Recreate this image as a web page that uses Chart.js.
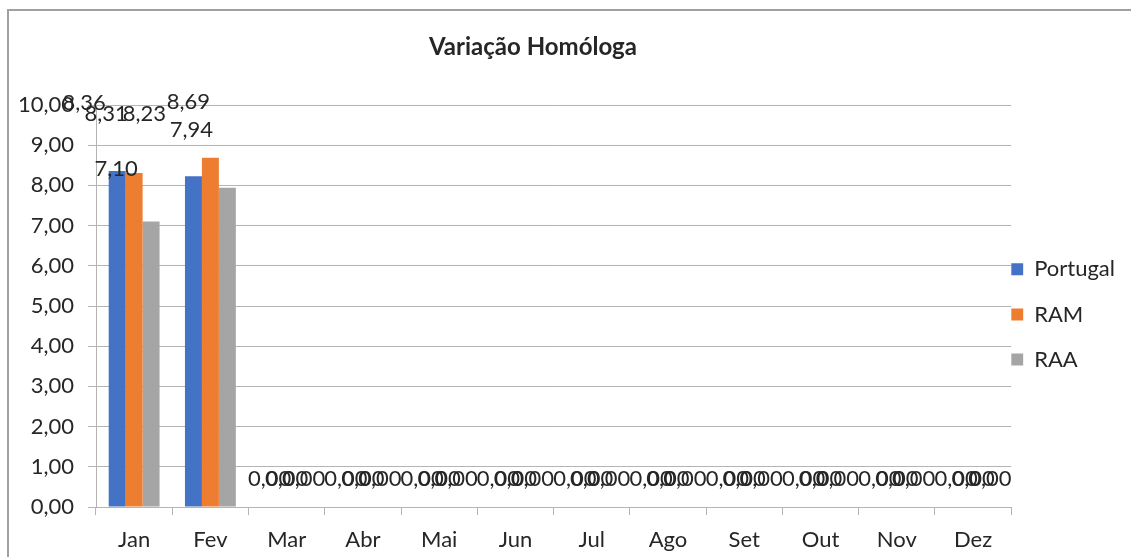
<!DOCTYPE html>
<html>
<head>
<meta charset="utf-8">
<script src="https://cdn.jsdelivr.net/npm/chart.js@4/dist/chart.umd.min.js"></script>
<style>
    html, body { margin: 0; padding: 0; background: #ffffff; overflow: hidden; }
    #wrap { position: relative; width: 1131px; height: 557px; }
</style>
</head>
<body>
<div id="wrap"><canvas id="variacaoChart"></canvas></div>
<script>
// Data
const months = ["Jan", "Fev", "Mar", "Abr", "Mai", "Jun", "Jul", "Ago", "Set", "Out", "Nov", "Dez"]
const portugal = [8.36, 8.23, 0, 0, 0, 0, 0, 0, 0, 0, 0, 0]
const ram = [8.31, 8.69, 0, 0, 0, 0, 0, 0, 0, 0, 0, 0]
const raa = [7.10, 7.94, 0, 0, 0, 0, 0, 0, 0, 0, 0, 0]
const yTicks = [0, 1, 2, 3, 4, 5, 6, 7, 8, 9, 10]

const FONT = "Lato, 'Open Sans', sans-serif"
const TEXT = "#262626"
const GRID = "#b4b4b4"

const fmt = (v) => v.toFixed(2).replace(".", ",")

// Labels that were dragged around in the original (dataset-index: [dx, dy])
const labelNudges = {
    "0-0": [-33, -68],
    "1-0": [-28, -59],
    "2-0": [-35, -53],
    "0-1": [-49, -62],
    "1-1": [-22, -56],
    "2-1": [-36, -58],
}

// Draws value labels above each bar
const valueLabels = {
    id: "valueLabels",
    afterDatasetsDraw(chart) {
        const ctx = chart.ctx
        ctx.save()
        ctx.font = "22px " + FONT
        ctx.fillStyle = TEXT
        ctx.textAlign = "center"
        ctx.textBaseline = "middle"
        chart.data.datasets.forEach((ds, di) => {
            const meta = chart.getDatasetMeta(di)
            meta.data.forEach((bar, i) => {
                const nudge = labelNudges[di + "-" + i] || [0, -28]
                ctx.fillText(fmt(ds.data[i]), bar.x + nudge[0], bar.y + nudge[1])
            })
        })
        ctx.restore()
    },
}

// Chart frame (top/left border) and the title
const frameAndTitle = {
    id: "frameAndTitle",
    beforeDraw(chart) {
        const ctx = chart.ctx
        ctx.save()
        ctx.strokeStyle = "#a0a0a0"
        ctx.lineWidth = 2
        ctx.beginPath()
        ctx.moveTo(8, chart.height)
        ctx.lineTo(8, 10)
        ctx.lineTo(chart.width, 10)
        ctx.stroke()
        ctx.restore()
    },
    afterDraw(chart) {
        const ctx = chart.ctx
        ctx.save()
        ctx.font = "bold 24px " + FONT
        ctx.fillStyle = TEXT
        ctx.textAlign = "center"
        ctx.textBaseline = "middle"
        ctx.fillText("Variação Homóloga", 533, 47)
        ctx.restore()
    },
}

const ctx = document.getElementById("variacaoChart").getContext("2d")

new Chart(ctx, {
    type: "bar",
    data: {
        labels: months,
        datasets: [
            { label: "Portugal", data: portugal, backgroundColor: "#4472C4" },
            { label: "RAM", data: ram, backgroundColor: "#ED7D31" },
            { label: "RAA", data: raa, backgroundColor: "#A5A5A5" },
        ],
    },
    options: {
        responsive: true,
        maintainAspectRatio: false,
        animation: false,
        devicePixelRatio: 1,
        datasets: {
            bar: { categoryPercentage: 0.667, barPercentage: 1.0 },
        },
        layout: {
            padding: { left: 8, top: 105, right: 6, bottom: 0 },
        },
        plugins: {
            title: { display: false },
            tooltip: { enabled: false },
            legend: {
                position: "right",
                fullSize: false,
                title: {
                    display: true,
                    text: " ",
                    padding: 0,
                    font: { family: FONT, size: 20, lineHeight: 2 },
                },
                labels: {
                    boxWidth: 12,
                    boxHeight: 12,
                    padding: 0,
                    color: TEXT,
                    font: { family: FONT, size: 22, lineHeight: 2.05 },
                    // array text makes the legend use the font line height per row
                    generateLabels(chart) {
                        return Chart.defaults.plugins.legend.labels
                            .generateLabels(chart)
                            .map((item) => ({ ...item, text: [item.text] }))
                    },
                },
            },
        },
        scales: {
            x: {
                grid: {
                    drawOnChartArea: false,
                    drawTicks: true,
                    tickLength: 8,
                    color: GRID,
                },
                border: { color: GRID, width: 1 },
                ticks: {
                    color: TEXT,
                    padding: 12,
                    font: { family: FONT, size: 22 },
                    maxRotation: 0,
                },
                afterFit(scale) {
                    scale.height = 50
                },
            },
            y: {
                min: 0,
                max: 10,
                afterBuildTicks(scale) {
                    scale.ticks = yTicks.map((v) => ({ value: v }))
                },
                grid: {
                    color: GRID,
                    drawTicks: true,
                    tickLength: 8,
                },
                border: { color: GRID, width: 1 },
                ticks: {
                    color: TEXT,
                    padding: 14,
                    font: { family: FONT, size: 22 },
                    callback: (v) => fmt(v),
                },
                afterFit(scale) {
                    scale.width = 88
                },
            },
        },
    },
    plugins: [valueLabels, frameAndTitle],
})
</script>
</body>
</html>
